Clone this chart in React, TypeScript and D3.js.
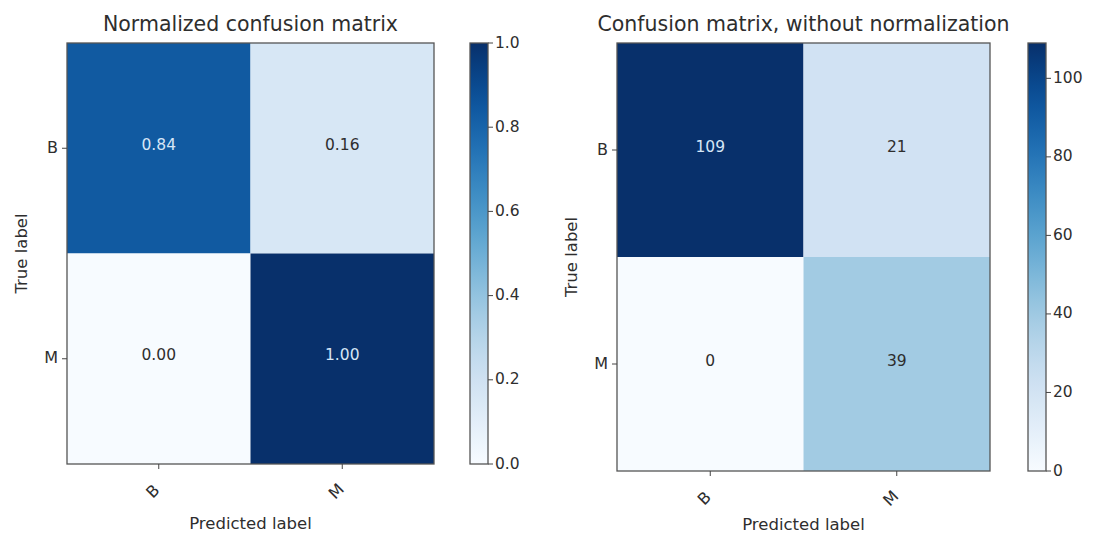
import React from "react";
import * as d3 from "d3";

const classes = ["B", "M"];
const normValues = [
  [0.84, 0.16],
  [0.0, 1.0],
];
const rawValues = [
  [109, 21],
  [0, 39],
];
const normTicks = [0, 0.2, 0.4, 0.6, 0.8, 1.0];
const rawTicks = [0, 20, 40, 60, 80, 100];
const titles = ["Normalized confusion matrix", "Confusion matrix, without normalization"];

const FONT = "DejaVu Sans, sans-serif";
const TXT = "#2e2e2e";

type PanelProps = {
  values: number[][];
  ticks: number[];
  vmax: number;
  cellFmt: (v: number) => string;
  tickFmt: (v: number) => string;
  title: string;
  x0: number;
  x1: number;
  y0: number;
  y1: number;
  cbX: number;
  id: string;
};

function Panel(p: PanelProps) {
  const x = d3.scaleBand<string>().domain(classes).range([p.x0, p.x1]);
  const y = d3.scaleBand<string>().domain(classes).range([p.y0, p.y1]);
  const color = d3.scaleSequential(d3.interpolateBlues).domain([0, p.vmax]);
  const cb = d3.scaleLinear().domain([0, p.vmax]).range([p.y1, p.y0]);
  const thresh = p.vmax / 2;
  const cbW = 18;
  const stops = d3.range(0, 1.0001, 0.05);
  const cx = (p.x0 + p.x1) / 2;
  const cy = (p.y0 + p.y1) / 2;
  return (
    <g>
      <defs>
        <linearGradient id={p.id} x1="0" y1="1" x2="0" y2="0">
          {stops.map((s) => (
            <stop key={s} offset={s} stopColor={d3.interpolateBlues(s)} />
          ))}
        </linearGradient>
      </defs>
      <text x={cx} y={31} textAnchor="middle" fontSize={20.5} fill={TXT} fontFamily={FONT}>
        {p.title}
      </text>
      {p.values.map((row, i) =>
        row.map((v, j) => (
          <g key={`${i}-${j}`}>
            <rect
              x={x(classes[j])!}
              y={y(classes[i])!}
              width={x.bandwidth()}
              height={y.bandwidth()}
              fill={color(v)}
            />
            <text
              x={x(classes[j])! + x.bandwidth() / 2}
              y={y(classes[i])! + y.bandwidth() / 2 - 3}
              textAnchor="middle"
              dominantBaseline="middle"
              fontSize={15.5}
              fontFamily={FONT}
              fill={v > thresh ? "#d6e6f7" : TXT}
            >
              {p.cellFmt(v)}
            </text>
          </g>
        ))
      )}
      <rect x={p.x0} y={p.y0} width={p.x1 - p.x0} height={p.y1 - p.y0} fill="none" stroke="#555" strokeWidth={1.3} />
      {classes.map((c) => (
        <g key={"x" + c}>
          <line x1={x(c)! + x.bandwidth() / 2} x2={x(c)! + x.bandwidth() / 2} y1={p.y1} y2={p.y1 + 5} stroke="#444" />
          <text
            transform={`translate(${x(c)! + x.bandwidth() / 2 - 2},${p.y1 + 31}) rotate(-45)`}
            textAnchor="middle"
            fontSize={16}
            fontFamily={FONT}
            fill={TXT}
          >
            {c}
          </text>
          <line x1={p.x0} x2={p.x0 - 5} y1={y(c)! + y.bandwidth() / 2} y2={y(c)! + y.bandwidth() / 2} stroke="#444" />
          <text
            x={p.x0 - 9}
            y={y(c)! + y.bandwidth() / 2}
            textAnchor="end"
            dominantBaseline="middle"
            fontSize={16}
            fontFamily={FONT}
            fill={TXT}
          >
            {c}
          </text>
        </g>
      ))}
      <text x={cx} y={Math.min(p.y1 + 65, 530)} textAnchor="middle" fontSize={16.5} fontFamily={FONT} fill={TXT}>
        Predicted label
      </text>
      <text
        transform={`translate(${p.x0 - 40},${cy}) rotate(-90)`}
        textAnchor="middle"
        fontSize={16.5}
        fontFamily={FONT}
        fill={TXT}
      >
        True label
      </text>
      <rect x={p.cbX} y={p.y0} width={cbW} height={p.y1 - p.y0} fill={`url(#${p.id})`} stroke="#555" strokeWidth={1.3} />
      {p.ticks.map((t) => (
        <g key={"t" + t}>
          <line x1={p.cbX + cbW} x2={p.cbX + cbW + 5} y1={cb(t)} y2={cb(t)} stroke="#444" />
          <text
            x={p.cbX + cbW + 7}
            y={cb(t)}
            dominantBaseline="middle"
            fontSize={15.5}
            fontFamily={FONT}
            fill={TXT}
          >
            {p.tickFmt(t)}
          </text>
        </g>
      ))}
    </g>
  );
}

export default function App() {
  const rawMax = d3.max(rawValues.flat())!;
  return (
    <svg width={1093} height={537} style={{ position: "absolute", left: 0, top: 0, background: "#fff" }}>
      <rect width={1093} height={537} fill="#fff" />
      <Panel
        id="g1"
        values={normValues}
        ticks={normTicks}
        vmax={1}
        cellFmt={(v) => v.toFixed(2)}
        tickFmt={(v) => v.toFixed(1)}
        title={titles[0]}
        x0={67}
        x1={434}
        y0={43}
        y1={464}
        cbX={470}
      />
      <Panel
        id="g2"
        values={rawValues}
        ticks={rawTicks}
        vmax={rawMax}
        cellFmt={(v) => String(v)}
        tickFmt={(v) => String(v)}
        title={titles[1]}
        x0={617}
        x1={990}
        y0={43}
        y1={471}
        cbX={1028}
      />
    </svg>
  );
}
